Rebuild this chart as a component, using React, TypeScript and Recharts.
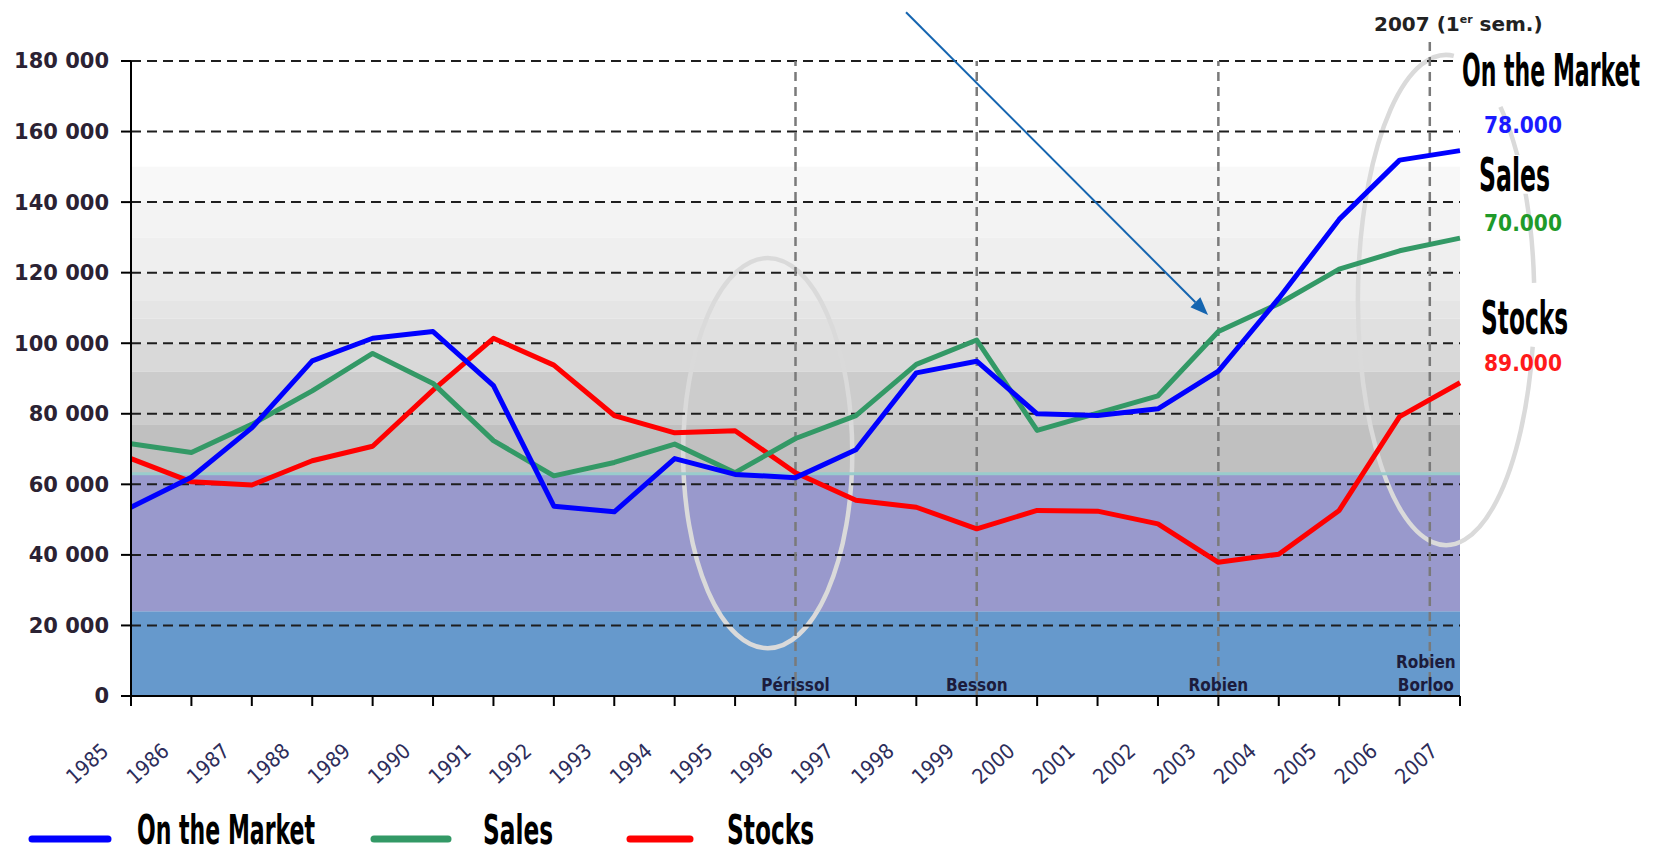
import React from 'react';
import { LineChart, Line, XAxis, YAxis, ReferenceLine, ReferenceArea } from 'recharts';

const years = [1985, 1986, 1987, 1988, 1989, 1990, 1991, 1992, 1993, 1994, 1995, 1996, 1997, 1998, 1999, 2000, 2001, 2002, 2003, 2004, 2005, 2006, 2007];
const onMarket = [53500, 62000, 76000, 95000, 101400, 103300, 88000, 53800, 52200, 67300, 62800, 61900, 69800, 91600, 94900, 80000, 79500, 81400, 92100, 112700, 135100, 151900, 154600];
const sales = [71500, 69000, 77000, 86500, 97100, 88600, 72400, 62400, 66200, 71400, 63300, 73000, 79500, 94000, 100900, 75300, 80200, 85100, 103300, 111200, 121000, 126200, 129800];
const stocks = [67300, 60700, 59800, 66700, 70800, 86700, 101400, 93800, 79500, 74600, 75200, 63300, 55500, 53500, 47400, 52600, 52400, 48800, 37900, 40200, 52600, 79200, 88800];

const yTicks = [0, 20000, 40000, 60000, 80000, 100000, 120000, 140000, 160000, 180000];

// grey gradient steps behind the curves (top -> bottom)
const greyEdges = [150000, 140000, 130000, 120000, 112000, 107000, 100000, 92000, 77000, 63000];
const greyFills = ['#f8f8f8', '#f3f3f3', '#efefef', '#eaeaea', '#e5e5e5', '#e0e0e0', '#d9d9d9', '#cccccc', '#c0c0c0'];

const reforms = [
  { year: 1996, top: 180000, names: ['Périssol'] },
  { year: 1999, top: 180000, names: ['Besson'] },
  { year: 2003, top: 180000, names: ['Robien'] },
  { year: 2006.5, top: 185400, names: ['Robien', 'Borloo'] },
];

const summaryNames = ['On the Market', 'Sales', 'Stocks'];
const summaryValues = ['78.000', '70.000', '89.000'];
const seriesColors = ['#0000ff', '#339966', '#ff0000'];
const valueColors = ['#1a1aff', '#1f9a2a', '#ff1a1a'];

const data = years.map((year, i) => ({
  year,
  market: onMarket[i],
  sales: sales[i],
  stocks: stocks[i],
}));

const fmt = (v: number) => String(v).replace(/\B(?=(\d{3})+(?!\d))/g, ' ');

const condensed = "'DejaVu Sans Condensed', 'DejaVu Sans'";

const YearTick = ({ x, y, payload }: any) => {
  const tx = x - 21;
  const ty = y + 45;
  return (
    <text
      x={tx}
      y={ty}
      transform={`rotate(-42, ${tx}, ${ty})`}
      textAnchor="end"
      fontFamily={condensed}
      fontStretch="condensed"
      fontSize={21}
      fill="#2d2d5a"
    >
      {payload.value}
    </text>
  );
};

const ReformTag = ({ viewBox, names }: any) => {
  if (!viewBox) return null;
  const bottom = viewBox.y + viewBox.height;
  const cx = viewBox.x;
  const n = names.length;
  return (
    <g>
      {names.map((t: string, i: number) => (
        <text
          key={t + i}
          x={cx - (n > 1 ? 4 : 0)}
          y={bottom - 5 - (n - 1 - i) * 23}
          textAnchor="middle"
          fontFamily={condensed}
          fontStretch="condensed"
          fontWeight="bold"
          fontSize={17}
          fill="#1c1c3c"
        >
          {t}
        </text>
      ))}
    </g>
  );
};

const oval = (arcs: number[][]) => (props: any) => {
  const { x, y, width, height } = props;
  const cx = x + width / 2;
  const cy = y + height / 2;
  const rx = width / 2;
  const ry = height / 2;
  const pt = (a: number) => [cx + rx * Math.cos((a * Math.PI) / 180), cy + ry * Math.sin((a * Math.PI) / 180)];
  const d = arcs
    .map(([a0, a1]) => {
      const [sx, sy] = pt(a0);
      const [ex, ey] = pt(a1);
      return `M${sx},${sy} A${rx},${ry} 0 ${a1 - a0 > 180 ? 1 : 0} 1 ${ex},${ey}`;
    })
    .join(' ');
  return <path d={d} fill="none" stroke="#dadada" strokeWidth={4.5} />;
};

const Arrow = (props: any) => {
  const { x1, y1, x2, y2 } = props;
  const a = Math.atan2(y2 - y1, x2 - x1);
  const L = 18;
  const W = 7;
  const bx = x2 - L * Math.cos(a);
  const by = y2 - L * Math.sin(a);
  const nx = -Math.sin(a);
  const ny = Math.cos(a);
  return (
    <g>
      <line x1={x1} y1={y1} x2={bx} y2={by} stroke="#1565b0" strokeWidth={2} />
      <polygon
        points={`${x2},${y2} ${bx + W * nx},${by + W * ny} ${bx - W * nx},${by - W * ny}`}
        fill="#1565b0"
      />
    </g>
  );
};

const legendLines = [
  { x1: 32, x2: 108, tx: 137, tw: 178 },
  { x1: 374, x2: 448, tx: 483, tw: 70 },
  { x1: 630, x2: 690, tx: 727, tw: 87 },
];

const sideLabels = [
  { tx: 1462, ty: 86, tw: 178, fs: 44, vy: 133 },
  { tx: 1479, ty: 191, tw: 71, fs: 46, vy: 231 },
  { tx: 1481, ty: 334, tw: 87, fs: 47, vy: 371 },
];
const squeeze = 0.6;

export default function App() {
  return (
    <div style={{ position: 'absolute', left: 0, top: 0, width: 1653, height: 854, background: '#fff', overflow: 'hidden' }}>
      <LineChart width={1653} height={854} data={data} margin={{ top: 61, right: 193, bottom: 98, left: 11 }}>
        <XAxis
          dataKey="year"
          type="number"
          domain={[1985, 2007]}
          ticks={years}
          interval={0}
          tickSize={10}
          stroke="#000"
          strokeWidth={2}
          height={60}
          tick={<YearTick />}
        />
        <YAxis
          type="number"
          domain={[0, 180000]}
          ticks={yTicks}
          interval={0}
          width={120}
          tickSize={10}
          tickMargin={12}
          stroke="#000"
          strokeWidth={2}
          tickFormatter={fmt}
          tick={{ fill: '#2b2233', fontSize: 21, fontFamily: 'DejaVu Sans', fontWeight: 'bold' }}
        />
        <ReferenceArea y1={0} y2={24000} fill="#6699cc" fillOpacity={1} stroke="none" />
        <ReferenceArea y1={24000} y2={63000} fill="#9999cc" fillOpacity={1} stroke="none" />
        {greyFills.map((f, i) => (
          <ReferenceArea key={'g' + i} y1={greyEdges[i + 1]} y2={greyEdges[i]} fill={f} fillOpacity={1} stroke="none" />
        ))}
        <ReferenceLine y={63000} stroke="#99cccc" strokeWidth={3} />
        {yTicks
          .filter((v) => v > 0)
          .map((v) => (
            <ReferenceLine key={'h' + v} y={v} stroke="#1e1e1e" strokeWidth={2} strokeDasharray="10 6" />
          ))}
        {reforms.map((r) => (
          <ReferenceLine
            key={'r' + r.year}
            segment={[{ x: r.year, y: 0 }, { x: r.year, y: r.top }]}
            ifOverflow="visible"
            stroke="#7a7a7a"
            strokeWidth={2.5}
            strokeDasharray="9 6"
            label={<ReformTag names={r.names} />}
          />
        ))}
        <Line type="linear" dataKey="stocks" stroke={seriesColors[2]} strokeWidth={5} dot={false} isAnimationActive={false} strokeLinejoin="round" />
        <Line type="linear" dataKey="sales" stroke={seriesColors[1]} strokeWidth={5} dot={false} isAnimationActive={false} strokeLinejoin="round" />
        <Line type="linear" dataKey="market" stroke={seriesColors[0]} strokeWidth={5} dot={false} isAnimationActive={false} strokeLinejoin="round" />
        <ReferenceArea x1={1994.14} x2={1996.94} y1={13560} y2={124160} ifOverflow="visible" shape={oval([[0, 180], [180, 360]])} />
        <ReferenceArea x1={2005.31} x2={2008.23} y1={42770} y2={181730} ifOverflow="visible" shape={oval([[11, 275], [-52, -4]])} />
        <ReferenceLine
          segment={[{ x: 1997.83, y: 193840 }, { x: 2002.83, y: 108000 }]}
          ifOverflow="visible"
          stroke="#1565b0"
          shape={Arrow}
        />
      </LineChart>
      <svg width={1653} height={854} style={{ position: 'absolute', left: 0, top: 0, pointerEvents: 'none' }}>
        <text x={1374} y={31} fontFamily="DejaVu Sans" fontWeight="bold" fontSize={20} fill="#222">
          2007 (1<tspan fontSize={11} dy={-8}>er</tspan>
          <tspan dy={8}> sem.)</tspan>
        </text>
        {summaryNames.map((name, i) => {
          const s = sideLabels[i];
          return (
            <g key={name}>
              <rect x={s.tx - 3} y={s.ty - s.fs * 0.78} width={s.tw + 6} height={s.fs * 0.84} fill="#fff" />
              <g transform={`translate(${s.tx}, ${s.ty}) scale(${squeeze}, 1)`}>
                <text
                  x={0}
                  y={0}
                  fontFamily={condensed}
                  fontStretch="condensed"
                  fontWeight="bold"
                  fontSize={s.fs}
                  textLength={s.tw / squeeze}
                  lengthAdjust="spacingAndGlyphs"
                  fill="#000"
                >
                  {name}
                </text>
              </g>
              <text
                x={1484}
                y={s.vy}
                fontFamily="DejaVu Sans"
                fontWeight="bold"
                fontSize={23}
                textLength={78}
                lengthAdjust="spacingAndGlyphs"
                fill={valueColors[i]}
              >
                {summaryValues[i]}
              </text>
            </g>
          );
        })}
        {summaryNames.map((name, i) => {
          const l = legendLines[i];
          return (
            <g key={'lg' + name}>
              <line x1={l.x1} y1={839} x2={l.x2} y2={839} stroke={seriesColors[i]} strokeWidth={7} strokeLinecap="round" />
              <text
                x={l.tx}
                y={844}
                fontFamily={condensed}
                fontStretch="condensed"
                fontWeight="bold"
                fontSize={40}
                textLength={l.tw}
                lengthAdjust="spacingAndGlyphs"
                fill="#000"
              >
                {name}
              </text>
            </g>
          );
        })}
      </svg>
    </div>
  );
}
